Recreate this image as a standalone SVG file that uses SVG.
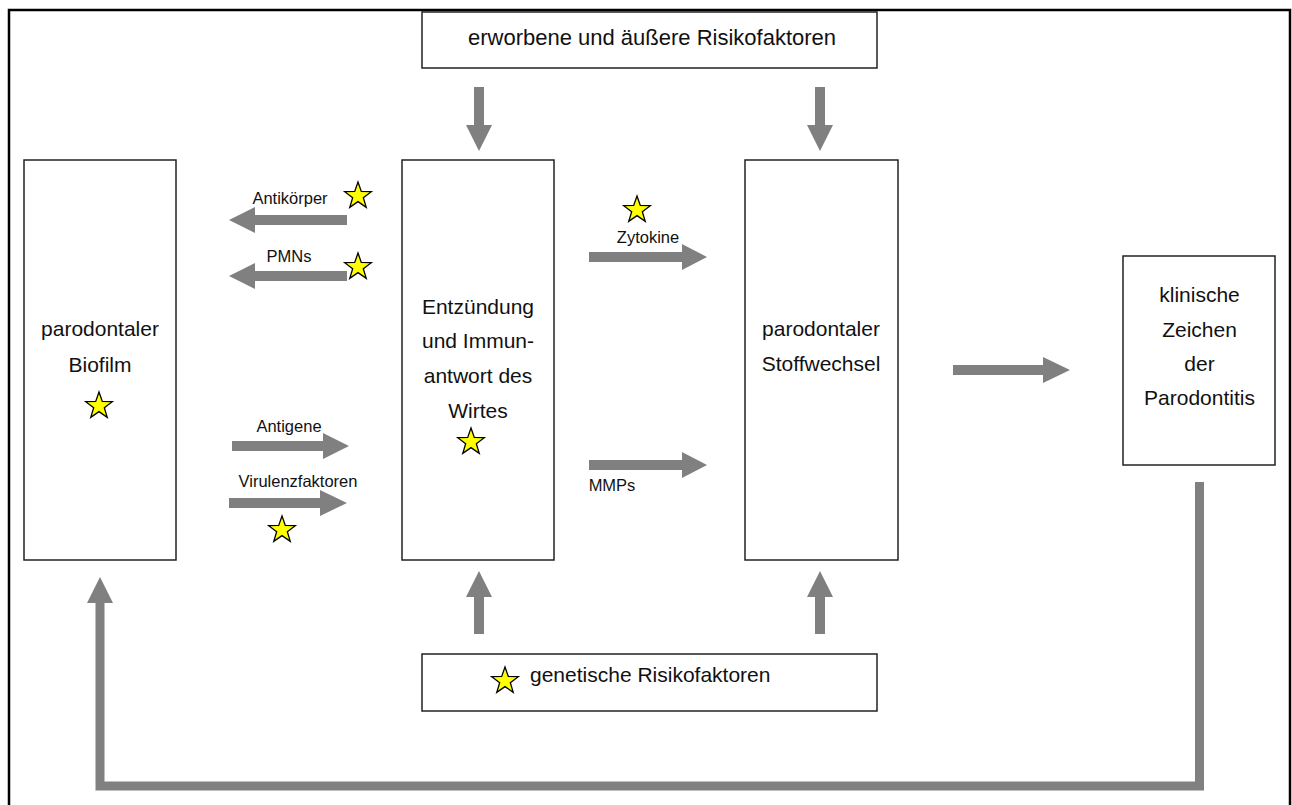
<svg xmlns="http://www.w3.org/2000/svg" width="1292" height="805" viewBox="0 0 1292 805">
<style>
.box{fill:#fff;stroke:#222;stroke-width:1.5}
.arr{fill:#808080;stroke:none}
.t{font-family:"Liberation Sans",Arial,sans-serif;fill:#111;text-anchor:middle}
.bt{font-size:21px}
.lt{font-size:16.5px}
.star{fill:#ffff00;stroke:#000;stroke-width:1.3;stroke-linejoin:miter}
</style>
<defs>
<path id="star" class="star" d="M0,-14 L3.29,-4.53 L13.31,-4.33 L5.33,1.73 L8.23,11.33 L0,5.6 L-8.23,11.33 L-5.33,1.73 L-13.31,-4.33 L-3.29,-4.53 Z"/>
</defs>
<rect x="0" y="0" width="1292" height="805" fill="#fff"/>
<rect x="9" y="10" width="1281" height="810" fill="none" stroke="#000" stroke-width="2.5"/>

<g id="n-risiko-aussen">
<rect class="box" x="422" y="12" width="455" height="56"/>
<text class="t" x="652" y="45" font-size="22">erworbene und äußere Risikofaktoren</text>
</g>

<g id="n-biofilm">
<rect class="box" x="24" y="160" width="152" height="400"/>
<text class="t bt" x="100" y="336">parodontaler</text>
<text class="t bt" x="100" y="372">Biofilm</text>
<use href="#star" x="99" y="406"/>
</g>

<g id="n-entzuendung">
<rect class="box" x="402" y="160" width="152" height="400"/>
<text class="t bt" x="478" y="314">Entzündung</text>
<text class="t bt" x="478" y="348">und Immun-</text>
<text class="t bt" x="478" y="383">antwort des</text>
<text class="t bt" x="478" y="418">Wirtes</text>
<use href="#star" x="471" y="442"/>
</g>

<g id="n-stoffwechsel">
<rect class="box" x="745" y="160" width="153" height="400"/>
<text class="t bt" x="821" y="336">parodontaler</text>
<text class="t bt" x="821" y="371">Stoffwechsel</text>
</g>

<g id="n-klinisch">
<rect class="box" x="1123" y="256" width="152" height="209"/>
<text class="t bt" x="1199.5" y="302">klinische</text>
<text class="t bt" x="1199.5" y="337">Zeichen</text>
<text class="t bt" x="1199.5" y="371">der</text>
<text class="t bt" x="1199.5" y="405">Parodontitis</text>
</g>

<g id="n-genetisch">
<rect class="box" x="422" y="654" width="455" height="57"/>
<use href="#star" x="505" y="681"/>
<text class="t bt" x="530" y="682" style="text-anchor:start">genetische Risikofaktoren</text>
</g>

<g id="connectors">
<path class="arr" d="M474,87 H484 V125 H492 L479,151 L466,125 H474 Z"/>
<path class="arr" d="M815,87 H825 V125 H833 L820,151 L807,125 H815 Z"/>
<path class="arr" d="M474,634 H484 V597 H492 L479,571 L466,597 H474 Z"/>
<path class="arr" d="M815,634 H825 V597 H833 L820,571 L807,597 H815 Z"/>
<path class="arr" d="M347,215 V225 H255 V233 L229,220 L255,207 V215 Z"/>
<text class="t lt" x="290" y="204">Antikörper</text>
<use href="#star" x="358" y="196"/>
<path class="arr" d="M347,271 V281 H255 V289 L229,276 L255,263 V271 Z"/>
<text class="t lt" x="289" y="262">PMNs</text>
<use href="#star" x="358" y="267"/>
<path class="arr" d="M232,441 V451 H323 V459 L349,446 L323,433 V441 Z"/>
<text class="t lt" x="289" y="432">Antigene</text>
<path class="arr" d="M229,498 V508 H320 V516 L347,503 L320,490 V498 Z"/>
<text class="t lt" x="298" y="487">Virulenzfaktoren</text>
<use href="#star" x="282" y="530"/>
<path class="arr" d="M589,252 V262 H682 V270 L707,257 L682,244 V252 Z"/>
<text class="t lt" x="648" y="243">Zytokine</text>
<use href="#star" x="637" y="210"/>
<path class="arr" d="M589,460 V470 H682 V478 L707,465 L682,452 V460 Z"/>
<text class="t lt" x="612" y="491">MMPs</text>
<path class="arr" d="M953,365 V375 H1043 V383 L1070,370 L1043,357 V365 Z"/>
<path d="M1199.5,482 V786 H100 V603" fill="none" stroke="#808080" stroke-width="9" stroke-linejoin="miter"/>
<path class="arr" d="M87,603 L100,577 L113,603 Z"/>
</g>
</svg>
